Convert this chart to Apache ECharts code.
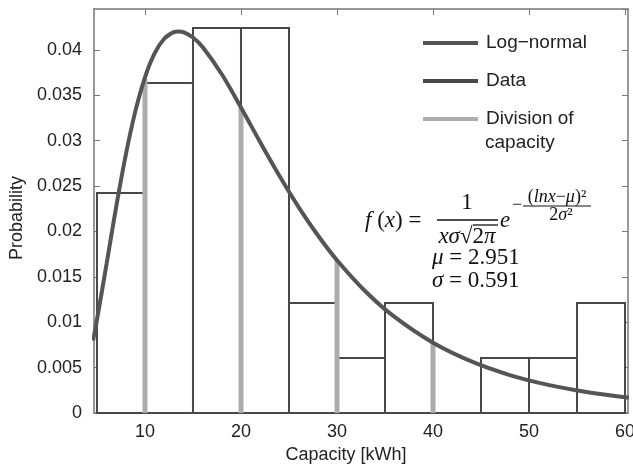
<!DOCTYPE html>
<html>
<head>
<meta charset="utf-8">
<script src="https://cdn.jsdelivr.net/npm/echarts@6/dist/echarts.min.js"></script>
<style>
    html, body { margin: 0; padding: 0; background: #fff; }
    #chart { width: 633px; height: 468px; }
</style>
</head>
<body>
<div id="chart"></div>
<script>
// ---
// data
// ---
var binStart = [5, 10, 15, 20, 25, 30, 35, 40, 45, 50, 55];
var binEnd = [10, 15, 20, 25, 30, 35, 40, 45, 50, 55, 60];
var probability = [0.02424, 0.03636, 0.04242, 0.04242, 0.01212, 0.00606, 0.01212, 0, 0.00606, 0.00606, 0.01212];

// log-normal curve, points picked along the drawn line
var curveX = [4.6, 5, 6, 7, 8, 9, 10, 11, 12, 13, 13.5, 14, 15, 16, 18, 20, 22, 24, 26, 28, 30, 33, 36, 40, 44, 48, 52, 56, 60, 60.4];
var curveY = [0.0080, 0.01027, 0.01643, 0.02271, 0.02844, 0.03325, 0.03698, 0.03961, 0.04122, 0.04195, 0.04203, 0.04195, 0.04136,
    0.04031, 0.03731, 0.03366, 0.02983, 0.02613, 0.02268, 0.01958, 0.01683, 0.01336, 0.01058, 0.00774, 0.00568, 0.00418,
    0.00310, 0.00231, 0.00173, 0.00171];

// grey "division of capacity" markers
var divisionX = [10, 20, 30, 40];
var divisionY = [0.0368, 0.03366, 0.01683, 0.00774];

var xTicks = [10, 20, 30, 40, 50, 60];

var sans = 'Liberation Sans';
var serif = 'Liberation Serif';
var axisColor = '#777';

var chart = echarts.init(document.getElementById('chart'), null, {renderer: 'canvas'});

var barData = [];
for (var i = 0; i < binStart.length; i++) {
    barData.push([binStart[i], binEnd[i], probability[i]]);
}
var curveData = curveX.map(function (x, i) { return [x, curveY[i]]; });
var divisionData = divisionX.map(function (x, i) { return [x, divisionY[i]]; });

function fmtY(v) {
    return String(parseFloat(v.toFixed(4)));
}

var boxAxis = {
    axisLine: {show: true, onZero: false, lineStyle: {color: axisColor, width: 1.5}},
    splitLine: {show: false}
};

// math text helper (italic parts go into {i|...})
function mathText(x, y, text, size, align) {
    return {
        type: 'text', x: x, y: y, style: {
            text: text, font: size + 'px ' + serif, fill: '#111',
            align: align || 'left', verticalAlign: 'middle',
            rich: {i: {fontStyle: 'italic', fontSize: size, fontFamily: serif}}
        }
    };
}

chart.setOption({
    animation: false,
    grid: {left: 94, right: 5, top: 9, bottom: 55, outerBoundsMode: 'none'},
    legend: {
        orient: 'vertical',
        left: 423,
        top: 33,
        padding: 0,
        itemWidth: 55,
        itemHeight: 4,
        itemGap: 18,
        selectedMode: false,
        textStyle: {fontFamily: sans, fontSize: 19, color: '#222', lineHeight: 20, padding: [0, 0, 0, 3]},
        formatter: function (name) {
            return name === 'Division of capacity' ? 'Division of' : name;
        },
        data: [
            {name: 'Log\u2212normal', icon: 'rect', itemStyle: {color: '#555'}},
            {name: 'Data', icon: 'rect', itemStyle: {color: '#484848'}},
            {name: 'Division of capacity', icon: 'rect', itemStyle: {color: '#acacac'}}
        ]
    },
    xAxis: [
        echarts.util.merge({
            type: 'value', min: 4.69, max: 60.31, position: 'bottom',
            name: 'Capacity [kWh]', nameLocation: 'middle', nameGap: 30,
            nameTextStyle: {fontFamily: sans, fontSize: 18, color: '#222', padding: [0, 30, 0, 0]},
            axisTick: {show: true, inside: true, length: 6, customValues: xTicks, lineStyle: {color: axisColor}},
            axisLabel: {customValues: xTicks, fontFamily: sans, fontSize: 18, color: '#222', margin: 10, hideOverlap: false}
        }, boxAxis),
        echarts.util.merge({
            type: 'value', min: 4.69, max: 60.31, position: 'top',
            axisTick: {show: true, inside: true, length: 6, customValues: xTicks, lineStyle: {color: axisColor}},
            axisLabel: {show: false}
        }, boxAxis)
    ],
    yAxis: [
        echarts.util.merge({
            type: 'value', min: 0, max: 0.0445, interval: 0.005, position: 'left',
            name: 'Probability', nameLocation: 'middle', nameGap: 65, nameRotate: 90,
            nameTextStyle: {fontFamily: sans, fontSize: 18, color: '#222', padding: [0, 14, 0, 0]},
            axisTick: {show: true, inside: true, length: 6, lineStyle: {color: axisColor}},
            axisLabel: {formatter: fmtY, showMaxLabel: false, fontFamily: sans, fontSize: 18, color: '#222', margin: 12}
        }, boxAxis),
        echarts.util.merge({
            type: 'value', min: 0, max: 0.0445, interval: 0.005, position: 'right',
            axisTick: {show: true, inside: true, length: 6, lineStyle: {color: axisColor}},
            axisLabel: {show: false}
        }, boxAxis)
    ],
    series: [
        {
            name: 'Data',
            type: 'custom',
            data: barData,
            encode: {x: [0, 1], y: 2},
            z: 2,
            renderItem: function (params, api) {
                var p0 = api.coord([api.value(0), api.value(2)]);
                var p1 = api.coord([api.value(1), 0]);
                return {
                    type: 'rect',
                    shape: {x: p0[0], y: p0[1], width: p1[0] - p0[0], height: p1[1] - p0[1]},
                    style: {fill: '#fff', stroke: '#484848', lineWidth: 2}
                };
            }
        },
        {
            name: 'Division of capacity',
            type: 'custom',
            data: divisionData,
            encode: {x: 0, y: 1},
            z: 3,
            renderItem: function (params, api) {
                var top = api.coord([api.value(0), api.value(1)]);
                var bottom = api.coord([api.value(0), 0]);
                return {
                    type: 'line',
                    shape: {x1: bottom[0], y1: bottom[1], x2: top[0], y2: top[1]},
                    style: {stroke: '#acacac', lineWidth: 5}
                };
            }
        },
        {
            name: 'Log\u2212normal',
            type: 'line',
            data: curveData,
            smooth: 0.3,
            showSymbol: false,
            z: 4,
            lineStyle: {color: '#555', width: 4}
        }
    ],
    graphic: [
        // second line of the legend entry
        {type: 'text', left: 485, top: 133, style: {text: 'capacity', font: '19px ' + sans, fill: '#222'}},

        // formula
        mathText(365, 221, '{i|f} ({i|x}) =', 23),
        mathText(467, 203, '1', 23, 'center'),
        {type: 'line', shape: {x1: 437, y1: 220, x2: 498, y2: 220}, style: {stroke: '#111', lineWidth: 1.6}},
        mathText(467, 237, '{i|x\u03c3}\u221a2{i|\u03c0}', 23, 'center'),
        {type: 'line', shape: {x1: 473, y1: 225, x2: 498, y2: 225}, style: {stroke: '#111', lineWidth: 1.3}},
        mathText(500, 221, '{i|e}', 23),
        mathText(512, 205, '\u2212', 18),
        mathText(557, 197, '({i|lnx}\u2212{i|\u03bc})\u00b2', 18, 'center'),
        {type: 'line', shape: {x1: 523, y1: 206, x2: 591, y2: 206}, style: {stroke: '#111', lineWidth: 1.1}},
        mathText(561, 215, '2{i|\u03c3}\u00b2', 18, 'center'),
        mathText(432, 258, '{i|\u03bc} = 2.951', 23),
        mathText(432, 281, '{i|\u03c3} = 0.591', 23)
    ]
});
</script>
</body>
</html>
